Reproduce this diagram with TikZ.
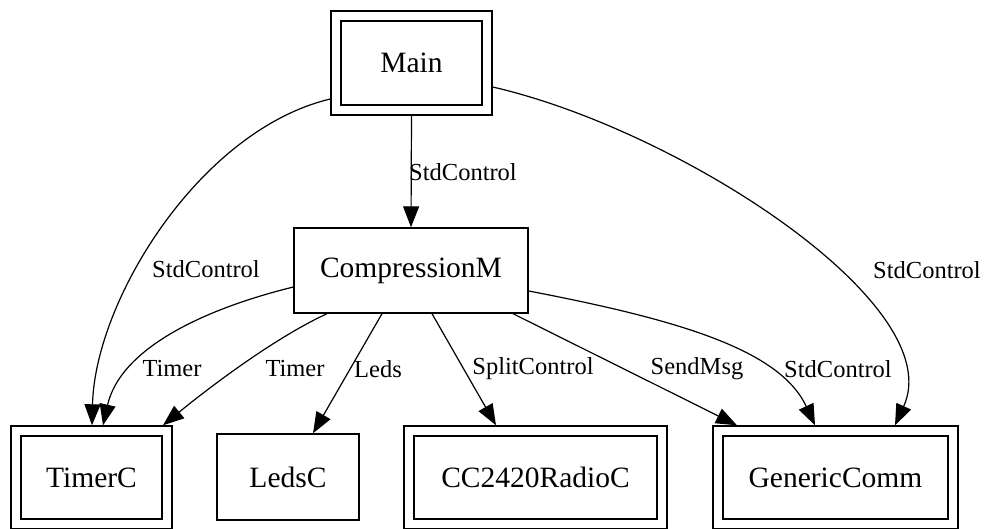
\documentclass[tikz,border=0pt]{standalone}
\usepackage{fontspec}
\setmainfont{Liberation Serif}
\usetikzlibrary{arrows.meta,calc}
\begin{document}
\begin{tikzpicture}[x=1pt,y=-1pt,
  box/.style={draw, line width=1.4pt, inner sep=0pt, font=\fontsize{29.5}{32}\selectfont, fill=white},
  dbox/.style={box, double, double distance=8.6pt, outer sep=5.7pt},
  edge/.style={line width=1.2pt, -{Triangle[length=21pt,width=16pt]}},
  lbl/.style={font=\fontsize{24.5}{26}\selectfont, inner sep=0pt}]
\useasboundingbox (0,0) rectangle (990,529);
\node[dbox, minimum width=151pt, minimum height=94pt] (main) at (411.5,63) {Main};
\node[box, minimum width=234pt, minimum height=85pt] (comp) at (411,270.5) {CompressionM};
\node[dbox, minimum width=151pt, minimum height=93pt] (timer) at (91.5,477.5) {TimerC};
\node[box, minimum width=142pt, minimum height=86pt] (leds) at (288,477) {LedsC};
\node[dbox, minimum width=253pt, minimum height=93pt] (cc) at (535.5,477.5) {CC2420RadioC};
\node[dbox, minimum width=235pt, minimum height=93pt] (gc) at (835.5,477.5) {GenericComm};

\draw[edge] (main.south) -- (comp.north);
\draw[edge] ([yshift=-36pt]main.west) .. controls (200,130) and (95,300) .. ([xshift=0.5pt]timer.north);
\draw[edge] ([yshift=-24pt]main.east) .. controls (680,130) and (950,305) .. ([xshift=59.5pt]gc.north);
\draw[edge] ([yshift=-16.5pt]comp.west) .. controls (200,310) and (120,350) .. ([xshift=11.5pt]timer.north);
\draw[edge] ([xshift=-84pt]comp.south) .. controls (270,340) and (200,395) .. ([xshift=71.5pt]timer.north);
\draw[edge] ([xshift=-29pt]comp.south) -- ([xshift=25pt]leds.north);
\draw[edge] ([xshift=21pt]comp.south) -- ([xshift=-39.5pt]cc.north);
\draw[edge] ([xshift=102pt]comp.south) -- ([xshift=-98.5pt]gc.north);
\draw[edge] ([yshift=-20.5pt]comp.east) .. controls (680,320) and (780,350) .. ([xshift=-20.5pt]gc.north);

\node[lbl] (l1) at (463,172) {StdControl};
\node[lbl] (l2) at (206,269) {StdControl};
\node[lbl] (l3) at (927,270) {StdControl};
\node[lbl] (l4) at (172,369) {Timer};
\node[lbl] (l5) at (295,369) {Timer};
\node[lbl] (l6) at (378,369) {Leds};
\node[lbl] (l7) at (533,369) {SplitControl};
\node[lbl] (l8) at (697,369) {SendMsg};
\node[lbl] (l9) at (838,369) {StdControl};
\end{tikzpicture}
\end{document}
